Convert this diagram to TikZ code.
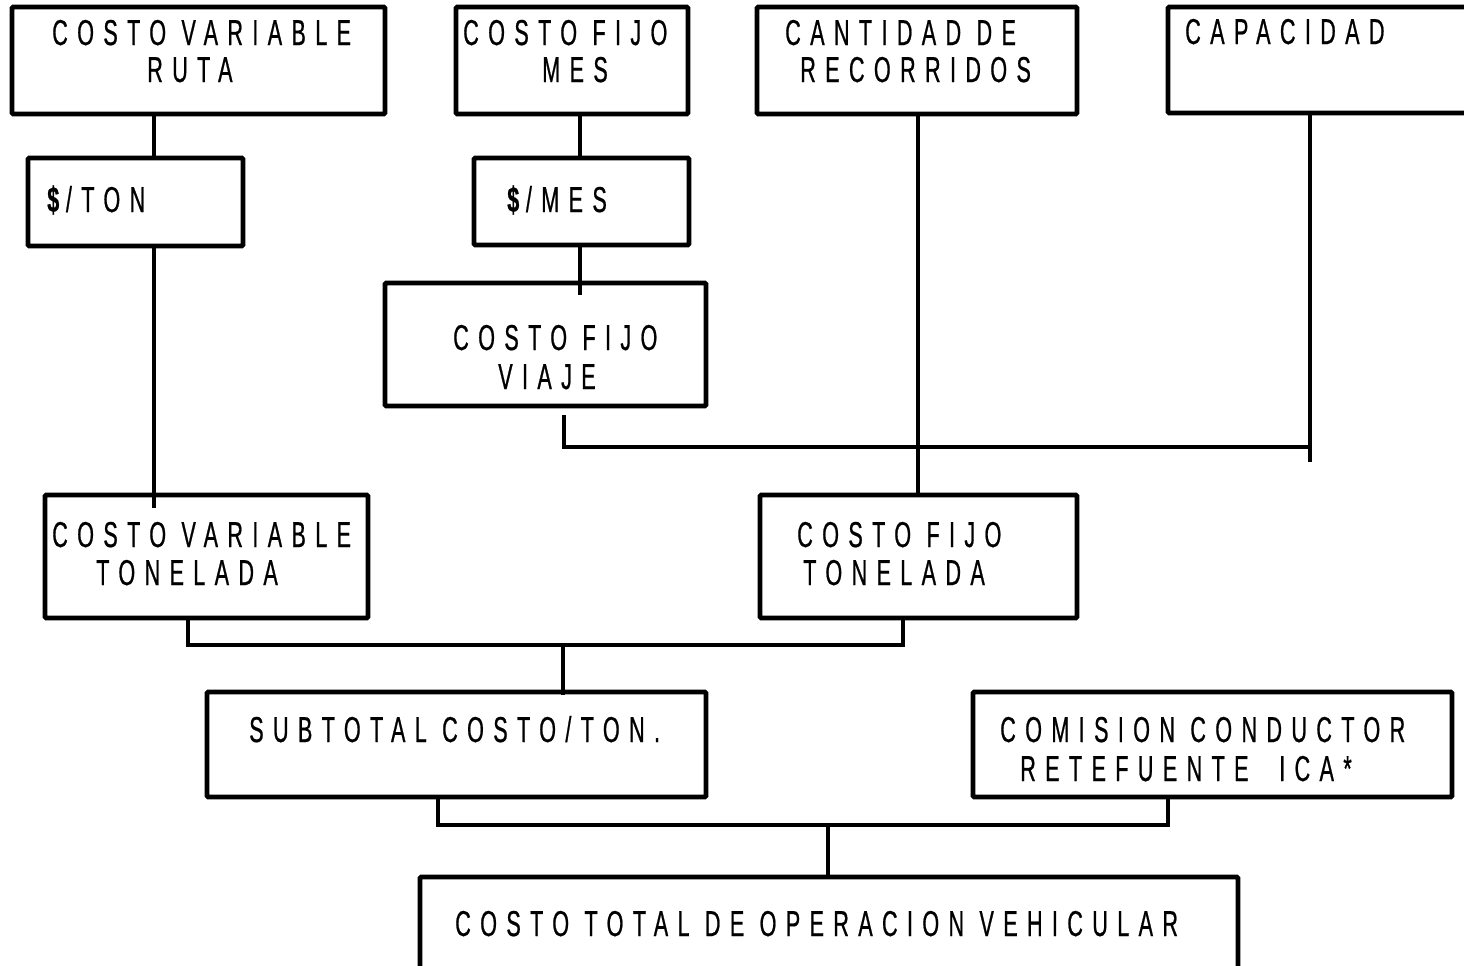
\documentclass[tikz,border=0pt]{standalone}
\usepackage{fontspec}
\usetikzlibrary{fit,calc}
\newfontfamily\lblfont[FakeStretch=0.6,LetterSpace=26,FakeBold=0.6]{Liberation Sans}
\begin{document}
\begin{tikzpicture}[x=0.75pt,y=-0.75pt,
  box/.style={draw=black,line width=3.6pt,inner sep=0pt,rounded corners=1pt},
  conn/.style={draw=black,line width=3.6pt},
  lbl/.style={anchor=base west,inner sep=0pt,font=\lblfont\fontsize{27}{30}\selectfont}]
\useasboundingbox (0,0) rectangle (1464,965);
% boxes
\node[box,fit={(12,7) (385,114)}] (A) {};
\node[box,fit={(456,7) (688,114)}] (B) {};
\node[box,fit={(757,7) (1077,114)}] (C) {};
\node[box,fit={(1168,7) (1490,113)}] (D) {};
\node[box,fit={(28,158) (243,246)}] (E) {};
\node[box,fit={(474,158) (689,245)}] (F) {};
\node[box,fit={(385,283) (706,406)}] (G) {};
\node[box,fit={(45,495) (368,618)}] (H) {};
\node[box,fit={(760,495) (1077,618)}] (I) {};
\node[box,fit={(207,692) (706,797)}] (J) {};
\node[box,fit={(973,692) (1452,797)}] (K) {};
\node[box,fit={(420,877) (1238,1010)}] (L) {};
% texts
\node[lbl] (tA1) at (52,45) {COSTO VARIABLE};
\node[lbl] (tA2) at (147,82) {RUTA};
\node[lbl] (tB1) at (463,45) {COSTO FIJO};
\node[lbl] (tB2) at (542,82) {MES};
\node[lbl] (tC1) at (785,45) {CANTIDAD DE};
\node[lbl] (tC2) at (800,82) {RECORRIDOS};
\node[lbl] (tD1) at (1185,44) {CAPACIDAD};
\node[lbl] (tE1) at (47,212) {{\bfseries\$}\kern5pt/TON};
\node[lbl] (tF1) at (507,212) {{\bfseries\$}\kern5pt/MES};
\node[lbl] (tG1) at (453,350) {COSTO FIJO};
\node[lbl] (tG2) at (498,389) {VIAJE};
\node[lbl] (tH1) at (52,547) {COSTO VARIABLE};
\node[lbl] (tH2) at (96,585) {TONELADA};
\node[lbl] (tI1) at (797,547) {COSTO FIJO};
\node[lbl] (tI2) at (803,585) {TONELADA};
\node[lbl] (tJ1) at (249,742) {SUBTOTAL COSTO/TON.};
\node[lbl] (tK1) at (1000,742) {COMISION CONDUCTOR};
\node[lbl] (tK2) at (1020,781) {RETEFUENTE\ \ ICA*};
\node[lbl] (tL1) at (455,936) {COSTO TOTAL DE OPERACION VEHICULAR};
% x positions of connectors
\coordinate (xa) at (154,0);
\coordinate (xb) at (580,0);
\coordinate (xc) at (918,0);
\coordinate (xd) at (1310,0);
\coordinate (xg) at (564,0);
\coordinate (xh) at (188,0);
\coordinate (xi) at (903,0);
\coordinate (xm) at (563,0);
\coordinate (xj) at (438,0);
\coordinate (xk) at (1168,0);
\coordinate (xl) at (828,0);
\coordinate (yv) at (0,447);
\coordinate (yt) at (0,645);
\coordinate (yb) at (0,825);
% connectors
\draw[conn] (A.south -| xa) -- (E.north -| xa);
\draw[conn] (E.south -| xa) -- ($(H.north -| xa)+(0,15)$);
\draw[conn] (B.south -| xb) -- (F.north -| xb);
\draw[conn] (F.south -| xb) -- ($(G.north -| xb)+(0,14)$);
\coordinate (vjoin) at (yv -| xd);
\draw[conn] ($(G.south -| xg)+(0,7)$) |- (vjoin);
\draw[conn] (D.south -| xd) -- ($(vjoin)+(0,15)$);
\draw[conn] (C.south -| xc) -- (I.north -| xc);
\draw[conn] (H.south -| xh) |- (yt -| xi) -- (I.south -| xi);
\draw[conn] (yt -| xm) -- ($(J.north -| xm)+(0,5)$);
\draw[conn] (J.south -| xj) |- (yb -| xk) -- (K.south -| xk);
\draw[conn] (yb -| xl) -- (L.north -| xl);
\end{tikzpicture}
\end{document}
